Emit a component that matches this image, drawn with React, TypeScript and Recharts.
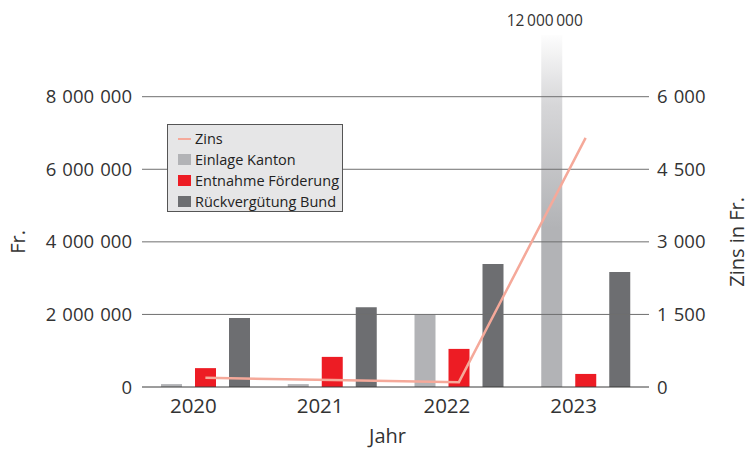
import React from 'react';
import { ComposedChart, Bar, Line, XAxis, YAxis, ReferenceLine, Legend, Label, LabelList, Cell } from 'recharts';

const years = ['2020', '2021', '2022', '2023'];
const einlageKanton = [80000, 80000, 2000000, 12000000];
const entnahmeFoerderung = [520000, 830000, 1050000, 360000];
const rueckverguetungBund = [1900000, 2200000, 3390000, 3170000];
const zins = [190, 145, 100, 5150];
const leftTicks = [0, 2000000, 4000000, 6000000, 8000000];
const rightTicks = [0, 1500, 3000, 4500, 6000];

// bars above Y_MAX are cut off at the top and faded out
const Y_MAX = 9700000;
const Z_MAX = (Y_MAX / 8000000) * 6000;

const FONT = '"Open Sans", sans-serif';
const TEXT = '#333';
const colors = {
  zins: '#f5a99a',
  einlage: '#b2b3b6',
  entnahme: '#ed1c24',
  rueck: '#6d6e71',
};

const data = years.map((year, i) => ({
  year,
  einlage: einlageKanton[i],
  entnahme: entnahmeFoerderung[i],
  rueck: rueckverguetungBund[i],
  zins: zins[i],
}));

const fmt = (n: number, sep = '\u2004') => String(n).replace(/\B(?=(\d{3})+(?!\d))/g, sep);

const legendItems = [
  { label: 'Zins', color: colors.zins, line: true },
  { label: 'Einlage Kanton', color: colors.einlage },
  { label: 'Entnahme Förderung', color: colors.entnahme },
  { label: 'Rückvergütung Bund', color: colors.rueck },
];

const LegendBox = () => (
  <div
    style={{
      width: 176,
      height: 88,
      boxSizing: 'border-box',
      border: '1px solid #555',
      background: '#e6e6e7',
      padding: '3px 0 0 10px',
      fontFamily: FONT,
      fontSize: 14.5,
      color: '#222',
    }}
  >
    {legendItems.map((it) => (
      <div key={it.label} style={{ display: 'flex', alignItems: 'center', height: 21, lineHeight: '21px' }}>
        <span
          style={{
            display: 'inline-block',
            width: 13,
            height: it.line ? 2 : 11,
            background: it.color,
            marginRight: 4,
          }}
        />
        {it.label}
      </div>
    ))}
  </div>
);

const VerticalTitle = ({ viewBox, value, dx }: any) => {
  const { x, y, height } = viewBox;
  const bottom = y + height;
  const cy = bottom - (height * (8000000 / Y_MAX)) / 2;
  const cx = x + dx;
  return (
    <text
      x={cx}
      y={cy}
      transform={`rotate(-90, ${cx}, ${cy})`}
      textAnchor="middle"
      dominantBaseline="central"
      fill={TEXT}
      fontFamily={FONT}
      fontSize={20}
    >
      {value}
    </text>
  );
};

const OverflowLabel = ({ x, y, width, index }: any) => {
  if (einlageKanton[index] <= Y_MAX) return null;
  return (
    <text
      x={x + width / 2 - 7}
      y={y - 9}
      textAnchor="middle"
      fill={TEXT}
      fontFamily={FONT}
      fontSize={15.5}
    >
      {fmt(einlageKanton[index], '\u2009')}
    </text>
  );
};

export default function App() {
  return (
    <div style={{ position: 'absolute', left: 0, top: 0 }}>
      <ComposedChart
        width={749}
        height={449}
        data={data}
        margin={{ top: 35, right: 0, bottom: 0, left: 0 }}
        barSize={21}
        barGap={13}
      >
        <defs>
          <linearGradient id="fade" x1="0" y1="0" x2="0" y2="1">
            <stop offset="0%" stopColor="#fdfdfd" />
            <stop offset="20%" stopColor="#d6d6d8" />
            <stop offset="55%" stopColor={colors.einlage} />
            <stop offset="100%" stopColor={colors.einlage} />
          </linearGradient>
        </defs>
        {leftTicks.slice(1).map((t) => (
          <ReferenceLine key={t} yAxisId="left" y={t} stroke="#6f6f6f" />
        ))}
        <XAxis
          dataKey="year"
          height={62}
          tickLine={false}
          tickSize={0}
          tickMargin={11}
          axisLine={{ stroke: '#3a3a3a' }}
          tick={{ fill: TEXT, fontFamily: FONT, fontSize: 20.5, dx: -12 }}
        >
          <Label value="Jahr" position="insideBottom" offset={6} dx={-8} fill={TEXT} fontFamily={FONT} fontSize={20} />
        </XAxis>
        <YAxis
          yAxisId="left"
          width={142}
          domain={[0, Y_MAX]}
          ticks={leftTicks}
          axisLine={false}
          tickLine={false}
          tickSize={0}
          tickMargin={10}
          tickFormatter={(v: number) => fmt(v)}
          tick={{ fill: TEXT, fontFamily: FONT, fontSize: 18.5 }}
        >
          <Label value="Fr." content={<VerticalTitle dx={18} />} />
        </YAxis>
        <YAxis
          yAxisId="right"
          orientation="right"
          width={100}
          domain={[0, Z_MAX]}
          ticks={rightTicks}
          axisLine={false}
          tickLine={false}
          tickSize={0}
          tickMargin={8}
          tickFormatter={(v: number) => fmt(v)}
          tick={{ fill: TEXT, fontFamily: FONT, fontSize: 18.5, textAnchor: 'start' }}
        >
          <Label value="Zins in Fr." content={<VerticalTitle dx={88} />} />
        </YAxis>
        <Legend
          layout="vertical"
          align="center"
          verticalAlign="middle"
          content={<LegendBox />}
          wrapperStyle={{ left: 167, top: 124, width: 176 }}
        />
        <Bar
          yAxisId="left"
          name="Einlage Kanton"
          dataKey={(d: any) => Math.min(d.einlage, Y_MAX)}
          fill={colors.einlage}
          isAnimationActive={false}
        >
          {data.map((d) => (
            <Cell key={d.year} fill={d.einlage > Y_MAX ? 'url(#fade)' : colors.einlage} />
          ))}
          <LabelList content={<OverflowLabel />} />
        </Bar>
        <Bar yAxisId="left" name="Entnahme Förderung" dataKey="entnahme" fill={colors.entnahme} isAnimationActive={false} />
        <Bar yAxisId="left" name="Rückvergütung Bund" dataKey="rueck" fill={colors.rueck} isAnimationActive={false} />
        <Line
          yAxisId="right"
          name="Zins"
          dataKey="zins"
          stroke={colors.zins}
          strokeWidth={2.5}
          dot={false}
          activeDot={false}
          isAnimationActive={false}
        />
      </ComposedChart>
    </div>
  );
}
